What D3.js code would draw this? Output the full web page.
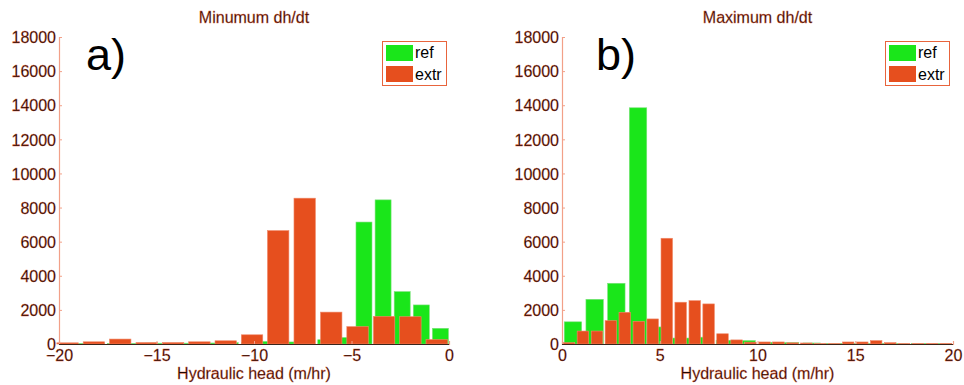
<!DOCTYPE html>
<html><head><meta charset="utf-8">
<script src="https://cdn.jsdelivr.net/npm/d3@7"></script>
<style>
html,body{margin:0;padding:0;background:#fff;}
svg{display:block;font-family:"Liberation Sans",Arial,sans-serif;}
</style></head>
<body>
<svg id="c" width="964" height="385"></svg>
<script>
// ---------- data ----------
const yTicks = [0,2000,4000,6000,8000,10000,12000,14000,16000,18000];
const seriesNames = ["ref","extr"];

// Panel a) Minimum dh/dt
const aXTicks = [-20,-15,-10,-5,0];
const aRefCenters = [-19.06,-18.08,-17.10,-16.12,-15.14,-14.16,-13.18,-12.20,-11.22,-10.24,-9.26,-8.28,-7.30,-6.32,-5.34,-4.36,-3.38,-2.40,-1.42,-0.44];
const aRefValues  = [20,20,20,30,50,40,50,60,80,100,150,120,150,250,380,7150,8450,3070,2290,920];
const aExtrCenters = [-19.56,-18.21,-16.86,-15.50,-14.15,-12.80,-11.45,-10.10,-8.76,-7.40,-6.04,-4.69,-3.33,-1.98,-0.63];
const aExtrValues  = [70,130,290,90,90,130,190,540,6650,8550,1870,1020,1620,1600,260];

// Panel b) Maximum dh/dt
const bXTicks = [0,5,10,15,20];
const bRefCenters = [0.56,1.67,2.78,3.89,5.00,6.11,7.22,8.33,9.44,10.56,11.67,12.78,13.89,15.00,16.11,17.22,18.33,19.44];
const bRefValues  = [1300,2620,3560,13850,1000,350,400,220,200,100,80,60,30,20,20,20,20,20];
const bExtrCenters = [0.36,1.07,1.79,2.50,3.21,3.93,4.64,5.36,6.07,6.79,7.50,8.21,8.93,9.64,10.36,11.07,11.79,12.50,13.21,13.93,14.64,15.36,16.07,16.79,17.50,18.21,18.93,19.64];
const bExtrValues  = [80,760,760,1370,1860,1330,1470,6200,2450,2540,2350,600,240,110,120,120,70,60,20,20,120,120,200,80,20,40,40,40];

// ---------- styling ----------
const GREEN = "#1ae61a", RED = "#e64f1e", AXIS = "#f2a088", TXT = "#0c0200";
const svg = d3.select("#c");

function panel(opt){
  const g = svg.append("g");
  const x = d3.scaleLinear().domain(opt.xDomain).range([opt.x0, opt.x1]);
  const y = d3.scaleLinear().domain([0,18000]).range([344,37]);

  function bars(centers, values, w, color, stroke){
    g.append("g").selectAll("rect").data(values).join("rect")
      .attr("x", (d,i)=>x(centers[i]-w/2))
      .attr("width", (d,i)=>x(centers[i]+w/2)-x(centers[i]-w/2))
      .attr("y", d=>y(d))
      .attr("height", d=>y(0)-y(d))
      .attr("fill", color)
      .attr("stroke", stroke).attr("stroke-width",0.6);
  }
  bars(opt.refC, opt.refV, opt.refW, GREEN, "#7ae07a");
  bars(opt.extC, opt.extV, opt.extW, RED, "#f08a6a");

  const ya = g.append("g").attr("transform",`translate(${opt.x0},0)`)
    .call(d3.axisLeft(y).tickValues(yTicks).tickSize(-3).tickPadding(3).tickFormat(d3.format("d")));
  const xa = g.append("g").attr("transform",`translate(0,${y(0)})`)
    .call(d3.axisBottom(x).tickValues(opt.xTicks).tickSize(-3).tickPadding(6).tickFormat(d3.format("d")));
  [ya,xa].forEach(a=>{
    a.select(".domain").attr("stroke",AXIS).attr("stroke-width",1.2);
    a.selectAll(".tick line").attr("stroke",AXIS);
    a.selectAll(".tick text").attr("fill",TXT).attr("font-size",16)
      .attr("font-family","Liberation Sans, Arial, sans-serif")
      .attr("stroke","#e8643c").attr("stroke-width",0.3);
  });
  ya.selectAll(".tick text").attr("dy","0.36em");

  // dark baseline
  g.append("line").attr("x1",opt.x0).attr("x2",opt.x1).attr("y1",y(0)+0.5).attr("y2",y(0)+0.5)
    .attr("stroke","#1a1008").attr("stroke-width",1.2).attr("opacity",0.85);

  const cx = (opt.x0+opt.x1)/2;
  g.append("text").attr("x",cx).attr("y",23).attr("text-anchor","middle")
    .attr("font-size",16).attr("fill","#1e0802").attr("stroke","#e8643c").attr("stroke-width",0.3)
    .text(opt.title);
  g.append("text").attr("x",cx).attr("y",379).attr("text-anchor","middle")
    .attr("font-size",16).attr("fill","#1e0802").attr("stroke","#e8643c").attr("stroke-width",0.3)
    .text("Hydraulic head (m/hr)");
  g.append("text").attr("x",opt.labX).attr("y",70).attr("font-size",45).attr("fill","#000")
    .text(opt.label);

  // legend
  const lg = g.append("g").attr("transform",`translate(${opt.legX},41)`);
  lg.append("rect").attr("x",0.5).attr("y",0.5).attr("width",64).attr("height",44)
    .attr("fill","#fff").attr("stroke","#e8643c").attr("stroke-width",1);
  [GREEN,RED].forEach((c,i)=>{
    lg.append("rect").attr("x",4).attr("y",4+i*21).attr("width",27).attr("height",16).attr("fill",c);
    lg.append("text").attr("x",33).attr("y",17+i*21.5).attr("font-size",16).attr("fill","#000")
      .text(seriesNames[i]);
  });
}

panel({xDomain:[-20,0], x0:59, x1:449, xTicks:aXTicks, title:"Minumum dh/dt", label:"a)", labX:86, legX:382,
  refC:aRefCenters, refV:aRefValues, refW:0.82, extC:aExtrCenters, extV:aExtrValues, extW:1.1});
panel({xDomain:[0,20], x0:562, x1:953, xTicks:bXTicks, title:"Maximum dh/dt", label:"b)", labX:596, legX:885,
  refC:bRefCenters, refV:bRefValues, refW:0.89, extC:bExtrCenters, extV:bExtrValues, extW:0.59});
</script>
</body></html>
